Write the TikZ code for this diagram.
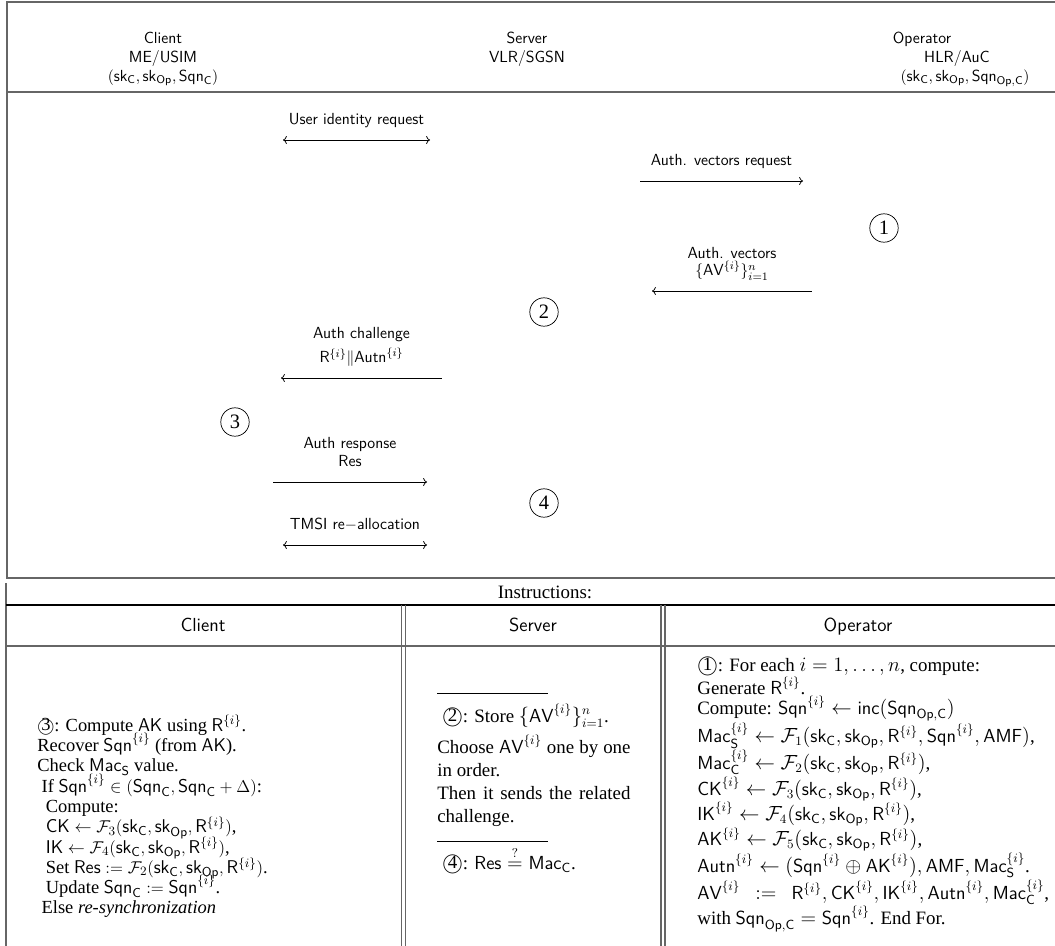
\documentclass[tikz,border=0pt]{standalone}
\usepackage{amsmath,amssymb}
\usepackage{fontspec}
\setmainfont{Liberation Serif}
\usetikzlibrary{arrows.meta}

\newcommand{\ssf}[1]{\mathsf{#1}}
\newcommand{\circnum}[1]{\ooalign{$\bigcirc$\crcr\hss\raisebox{0.1ex}{#1}\hss}}
\newcommand{\cellfont}{\fontsize{13.3}{16}\selectfont}
\newcommand{\clientfont}{\fontsize{13}{14.3}\selectfont\lineskiplimit=-30pt\relax}
\newcommand{\opfont}{\fontsize{13.3}{14.4}\selectfont}

\begin{document}
\fontsize{11.3}{12}\selectfont
\begin{tikzpicture}[x=0.704pt, y=-0.704pt, >={To}, line width=0.5pt,
        every node/.append style={inner sep=0pt}]
      \tikzstyle{boxline} = [draw=black!60, line width=0.9pt]
      \tikzstyle{party} = [font=\sffamily, anchor=base]
      \tikzstyle{head} = [font=\cellfont\sffamily, anchor=base]
      \tikzstyle{msg} = [font=\sffamily, align=center, text depth=2pt, above=8.5pt]
      \tikzstyle{stepmark} = [draw, circle, minimum size=20pt, font=\Large, line width=0.5pt]
      \tikzstyle{steps} = [anchor=north west, align=left]
      \tikzstyle{srvline} = [anchor=base west, font=\cellfont]
      \useasboundingbox (0,0) rectangle (1055,945);
      \clip (0,0) rectangle (1055,945);
      % frame of the message flow and of the table
      \draw[boxline] (7,2) rectangle (1080,578);
      \draw[boxline] (7,92) -- (1080,92);
      \draw[boxline] (6,583) -- (6,950);
      \draw[line width=0.9pt] (6,605) -- (1080,605);
      \draw[boxline] (6,646) -- (1080,646);
      \foreach \x in {401.5,405.5,661,665}
        \draw[boxline] (\x,605) -- (\x,950);
      % parties
      \node (Client) [party] at (163,43) {Client};
      \node (ME) [party] at (163,62) {ME/USIM};
      \node (ClientKeys) [party] at (163,81) {$(\ssf{sk}_{\ssf{C}}, \ssf{sk}_{\ssf{Op}}, \ssf{Sqn}_{\ssf{C}})$};
      \node (Server) [party] at (527,43) {Server};
      \node (VLR) [party] at (527,62) {VLR/SGSN};
      \node (Operator) [party] at (922,43) {Operator};
      \node (HLR) [party] at (957,62) {HLR/AuC};
      \node (OperatorKeys) [party] at (965,81) {$(\ssf{sk}_{\ssf{C}}, \ssf{sk}_{\ssf{Op}}, \ssf{Sqn}_{\ssf{Op,C}})$};
      % messages
      \coordinate (UIDl) at (283,140);   \coordinate (UIDr) at (430,140);
      \coordinate (AVRl) at (640,181);   \coordinate (AVRr) at (803,181);
      \coordinate (AVl) at (652,291);    \coordinate (AVr) at (812,291);
      \coordinate (CHl) at (281,378);    \coordinate (CHr) at (442,378);
      \coordinate (RESl) at (273,482);   \coordinate (RESr) at (427,482);
      \coordinate (TMSIl) at (283,545);  \coordinate (TMSIr) at (427,545);
      \draw[<->] (UIDl) -- node[msg] {User identity request} (UIDr);
      \draw[->] (AVRl) -- node[msg] {Auth. vectors request} (AVRr);
      \draw[<-] (AVl) -- node[msg] {Auth. vectors\\ $\{\ssf{AV}^{\{i\}}\}_{i=1}^{n}$} (AVr);
      \draw[<-] (CHl) -- node[msg] {Auth challenge\\[3pt] $\ssf{R}^{\{i\}}\|\ssf{Autn}^{\{i\}}$} (CHr);
      \draw[->] (RESl) -- node[msg] {Auth response\\[1pt] Res} (RESr);
      \draw[<->] (TMSIl) -- node[msg] {TMSI re$-$allocation} (TMSIr);
      \node (One) [stepmark] at (884,228) {1};
      \node (Two) [stepmark] at (544,312) {2};
      \node (Three) [stepmark] at (235,422) {3};
      \node (Four) [stepmark] at (544,503) {4};
      % instructions
      \node (Instructions) [anchor=base, font=\cellfont] at (545,598) {Instructions:};
      \node (ClientHead) [head] at (203,631) {Client};
      \node (ServerHead) [head] at (533,631) {Server};
      \node (OperatorHead) [head] at (858,631) {Operator};
      \node (ClientSteps) [steps, font=\clientfont] at (37,715) {
        \circnum{3}: Compute $\ssf{AK}$ using $\ssf{R}^{\{i\}}$.\\
        Recover $\ssf{Sqn}^{\{i\}}$ (from $\ssf{AK}$).\\
        Check $\ssf{Mac}_{\ssf{S}}$ value.\\
        \hspace*{3pt}If $\ssf{Sqn}^{\{i\}} \in (\ssf{Sqn}_{\ssf{C}}, \ssf{Sqn}_{\ssf{C}}+\Delta)$:\\
        \hspace*{6pt}Compute:\\
        \hspace*{6pt}$\ssf{CK} \leftarrow \mathcal{F}_3(\ssf{sk}_{\ssf{C}}, \ssf{sk}_{\ssf{Op}}, \ssf{R}^{\{i\}})$,\\
        \hspace*{6pt}$\ssf{IK} \leftarrow \mathcal{F}_4(\ssf{sk}_{\ssf{C}}, \ssf{sk}_{\ssf{Op}}, \ssf{R}^{\{i\}})$,\\
        \hspace*{6pt}Set $\ssf{Res} := \mathcal{F}_2(\ssf{sk}_{\ssf{C}}, \ssf{sk}_{\ssf{Op}}, \ssf{R}^{\{i\}})$.\\
        \hspace*{6pt}Update $\ssf{Sqn}_{\ssf{C}} := \ssf{Sqn}^{\{i\}}$.\\
        \hspace*{3pt}Else \emph{re-synchronization}};
      \coordinate (RuleAl) at (437,693);  \coordinate (RuleAr) at (548,693);
      \coordinate (RuleBl) at (437,841);  \coordinate (RuleBr) at (548,841);
      \draw (RuleAl) -- (RuleAr);
      \draw (RuleBl) -- (RuleBr);
      \node (Store) [srvline] at (442,722) {\circnum{2}: Store $\{\ssf{AV}^{\{i\}}\}_{i=1}^{n}$.};
      \node (Choose) [srvline] at (437,753) {\makebox[136pt][s]{Choose $\ssf{AV}^{\{i\}}$ one by one}};
      \node (InOrder) [srvline] at (437,776) {in order.};
      \node (Then) [srvline] at (437,799) {\makebox[136pt][s]{Then it sends the related}};
      \node (Challenge) [srvline] at (437,822) {challenge.};
      \node (Check) [srvline] at (442,869) {\circnum{4}: $\ssf{Res} \stackrel{?}{=} \ssf{Mac}_{\ssf{C}}$.};
      \node (OperatorSteps) [steps, font=\opfont] at (697,657) {
        \circnum{1}: For each $i=1,\ldots,n$, compute:\\
        Generate $\ssf{R}^{\{i\}}$.\\
        Compute: $\ssf{Sqn}^{\{i\}} \leftarrow \ssf{inc}(\ssf{Sqn}_{\ssf{Op,C}})$\\
        $\ssf{Mac}_{\ssf{S}}^{\{i\}} \leftarrow \mathcal{F}_1(\ssf{sk}_{\ssf{C}}, \ssf{sk}_{\ssf{Op}}, \ssf{R}^{\{i\}}, \ssf{Sqn}^{\{i\}}, \ssf{AMF})$,\\
        $\ssf{Mac}_{\ssf{C}}^{\{i\}} \leftarrow \mathcal{F}_2(\ssf{sk}_{\ssf{C}}, \ssf{sk}_{\ssf{Op}}, \ssf{R}^{\{i\}})$,\\
        $\ssf{CK}^{\{i\}} \leftarrow \mathcal{F}_3(\ssf{sk}_{\ssf{C}}, \ssf{sk}_{\ssf{Op}}, \ssf{R}^{\{i\}})$,\\
        $\ssf{IK}^{\{i\}} \leftarrow \mathcal{F}_4(\ssf{sk}_{\ssf{C}}, \ssf{sk}_{\ssf{Op}}, \ssf{R}^{\{i\}})$,\\
        $\ssf{AK}^{\{i\}} \leftarrow \mathcal{F}_5(\ssf{sk}_{\ssf{C}}, \ssf{sk}_{\ssf{Op}}, \ssf{R}^{\{i\}})$,\\
        $\ssf{Autn}^{\{i\}} \leftarrow (\ssf{Sqn}^{\{i\}} \oplus \ssf{AK}^{\{i\}}), \ssf{AMF}, \ssf{Mac}_{\ssf{S}}^{\{i\}}$.\\
        $\ssf{AV}^{\{i\}}\ \ :=\ \ \ssf{R}^{\{i\}}, \ssf{CK}^{\{i\}}, \ssf{IK}^{\{i\}}, \ssf{Autn}^{\{i\}}, \ssf{Mac}_{\ssf{C}}^{\{i\}}$,\\
        with $\ssf{Sqn}_{\ssf{Op,C}} = \ssf{Sqn}^{\{i\}}$. End For.};
    \end{tikzpicture}
\end{document}
